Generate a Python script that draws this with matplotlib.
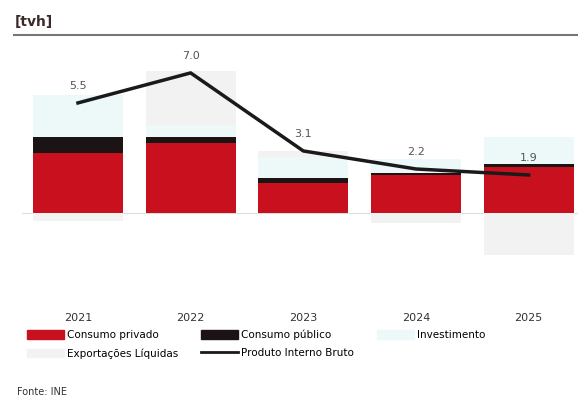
import numpy as np
import matplotlib.pyplot as plt
from matplotlib.lines import Line2D

anos = ["2021", "2022", "2023", "2024", "2025"]
consumo_privado = [3.0, 3.5, 1.5, 1.9, 2.3]
consumo_publico = [0.8, 0.3, 0.25, 0.1, 0.15]
investimento = [2.1, 0.6, 1.05, 0.7, 1.35]
exportacoes = [-0.4, 2.7, 0.3, -0.5, -2.1]
pib = [5.5, 7.0, 3.1, 2.2, 1.9]
pib_labels = ["5.5", "7.0", "3.1", "2.2", "1.9"]

c_priv = "#c8101f"
c_pub = "#1c1414"
c_inv = "#edf8f8"
c_exp = "#f2f2f2"

fig = plt.figure(figsize=(5.78, 4.03), dpi=100)
ax = fig.add_axes([0.0374, 0.243, 0.965, 0.663])

x = np.arange(len(anos))
w = 0.8
pos_base = np.zeros(len(anos))
neg_base = np.zeros(len(anos))
series = [(consumo_privado, c_priv), (consumo_publico, c_pub),
          (investimento, c_inv), (exportacoes, c_exp)]
for vals, col in series:
    vals = np.array(vals)
    base = np.where(vals >= 0, pos_base, neg_base)
    ax.bar(x, vals, w, bottom=base, color=col, zorder=2)
    pos_base = pos_base + np.where(vals >= 0, vals, 0)
    neg_base = neg_base + np.where(vals < 0, vals, 0)

ax.plot(x, pib, color="#1a1a1a", lw=2.5, zorder=3)
for xi, v, lab in zip(x, pib, pib_labels):
    ax.text(xi, v + 0.6, lab, ha="center", va="bottom", fontsize=8, color="#555555")

ax.axhline(0, color="#dddddd", lw=0.8, zorder=1)
ax.set_xlim(-0.5, 4.45)
ax.set_ylim(-4.6, 8.75)
ax.set_xticks(x)
ax.set_xticklabels(anos, fontsize=8, color="#333333")
ax.tick_params(axis="x", length=0, pad=6)
ax.set_yticks([])
for s in ax.spines.values():
    s.set_visible(False)

handles = [
    plt.Rectangle((0, 0), 1, 1, color=c_priv),
    plt.Rectangle((0, 0), 1, 1, color=c_pub),
    plt.Rectangle((0, 0), 1, 1, color=c_inv),
    plt.Rectangle((0, 0), 1, 1, color=c_exp),
    Line2D([0], [0], color="#1a1a1a", lw=2),
]
labels = ["Consumo privado", "Consumo público", "Investimento",
          "Exportações Líquidas", "Produto Interno Bruto"]
order = [0, 3, 1, 4, 2]
fig.legend([handles[i] for i in order], [labels[i] for i in order],
           loc="upper left", bbox_to_anchor=(0.03, 0.205), ncol=3,
           frameon=False, fontsize=7.5, handlelength=3.6, handleheight=0.9,
           columnspacing=2.2, handletextpad=0.25, labelspacing=0.75)

fig.text(0.025, 0.935, "[tvh]", fontsize=10, fontweight="bold", color="#3a2a2a")
fig.add_artist(Line2D([0.025, 1.0], [0.913, 0.913], color="#777777", lw=1.5))
fig.text(0.03, 0.02, "Fonte: INE", fontsize=7, color="#333333")

fig.savefig("out.png", dpi=100, facecolor="white")
